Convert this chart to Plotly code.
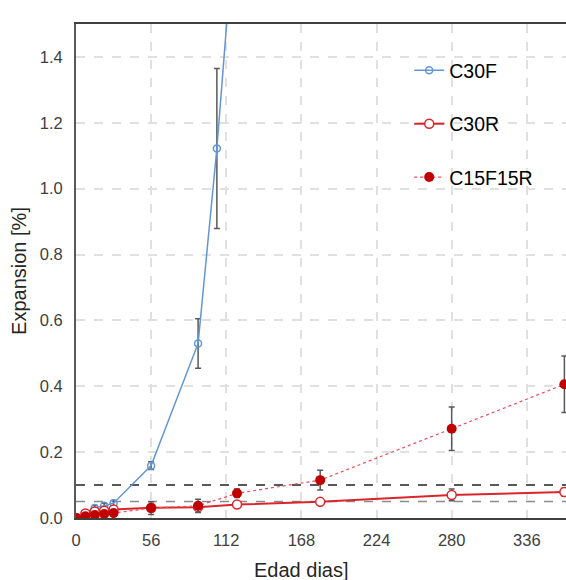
import plotly.graph_objects as go

# Expansion over time for three mixes (mean ± standard deviation)
days_c30f = [0, 7, 14, 21, 28, 56, 91, 105, 119]
exp_c30f = [0.0, 0.015, 0.030, 0.037, 0.045, 0.159, 0.530, 1.122, 1.850]
err_c30f = [0.0, 0.005, 0.008, 0.008, 0.008, 0.012, 0.075, 0.243, 0.300]

days_red = [0, 7, 14, 21, 28, 56, 91, 120, 182, 280, 364]
exp_c30r = [0.0, 0.014, 0.020, 0.022, 0.026, 0.031, 0.033, 0.041, 0.049, 0.070, 0.079]
err_c30r = [0.0, 0.003, 0.004, 0.004, 0.004, 0.006, 0.006, 0.005, 0.005, 0.018, 0.012]

exp_c15f15r = [0.0, 0.005, 0.009, 0.012, 0.015, 0.030, 0.037, 0.075, 0.115, 0.271, 0.406]
err_c15f15r = [0.0, 0.002, 0.003, 0.003, 0.004, 0.019, 0.020, 0.013, 0.030, 0.066, 0.086]

x_ticks = [0, 56, 112, 168, 224, 280, 336]
y_ticks = [0.0, 0.2, 0.4, 0.6, 0.8, 1.0, 1.2, 1.4]
limit_high = 0.10
limit_low = 0.05

BLUE = "#6196D3"
RED = "#D9262B"
DARK_RED = "#C00000"
ERR = dict(type="data", thickness=1.5, width=3, color="#595959")

fig = go.Figure()

fig.add_trace(go.Scatter(
    x=days_c30f, y=exp_c30f, name="C30F", mode="lines+markers",
    line=dict(color=BLUE, width=1.5),
    marker=dict(symbol="circle-open", size=7, color=BLUE, line=dict(width=1.5)),
    error_y=dict(array=err_c30f, **ERR),
    legendgroup="a",
))
fig.add_trace(go.Scatter(
    x=days_red, y=exp_c30r, name="C30R", mode="lines+markers",
    line=dict(color=RED, width=2),
    marker=dict(symbol="circle", size=9, color="white", line=dict(color=RED, width=1.5)),
    error_y=dict(array=err_c30r, **ERR),
    legendgroup="b",
))
fig.add_trace(go.Scatter(
    x=days_red, y=exp_c15f15r, name="C15F15R", mode="lines+markers",
    line=dict(color="#EE4B55", width=1.2, dash="dot"),
    marker=dict(symbol="circle", size=10, color=DARK_RED),
    error_y=dict(array=err_c15f15r, **ERR),
    legendgroup="c",
))

# Limit lines
fig.add_shape(type="line", xref="x domain", yref="y", x0=0, x1=1, y0=limit_high, y1=limit_high,
              line=dict(color="#222222", width=1.5, dash="dash"), layer="below")
fig.add_shape(type="line", xref="x domain", yref="y", x0=0, x1=1, y0=limit_low, y1=limit_low,
              line=dict(color="#8C8C8C", width=1.5, dash="dash"), layer="below")

# X-axis title, placed left of the domain centre
fig.add_annotation(text="Edad dias]", xref="paper", yref="paper",
                   x=(301 - 76) / 490, y=-(570 - 518) / 494,
                   xanchor="center", yanchor="middle", showarrow=False,
                   font=dict(size=20, color="#262626"))

font = "Liberation Sans, Arial, sans-serif"
fig.update_layout(
    width=566, height=580,
    margin=dict(l=76, r=0, t=24, b=62),
    plot_bgcolor="white", paper_bgcolor="white",
    font=dict(family=font, size=16.5, color="#404040"),
    showlegend=True,
    legend=dict(
        x=0.68, y=0.945, xanchor="left", yanchor="top",
        font=dict(size=19.5, color="#000000"),
        tracegroupgap=25, traceorder="grouped",
        bgcolor="rgba(255,255,255,0)",
    ),
    xaxis=dict(
        range=[0, 365.2], tickvals=x_ticks, ticktext=[str(v) for v in x_ticks],
        showgrid=True, gridcolor="#E0E0E0", gridwidth=1.5, griddash="dash",
        showline=True, linecolor="#404040", linewidth=2, mirror=True,
        ticks="", zeroline=False, ticklabelstandoff=6,
        tickfont=dict(size=16.5, color="#404040"),
    ),
    yaxis=dict(
        range=[0, 1.5], tickvals=y_ticks, tickformat=".1f",
        showgrid=True, gridcolor="#E0E0E0", gridwidth=1.5, griddash="dash",
        showline=True, linecolor="#595959", linewidth=2,
        ticks="", zeroline=False, ticklabelstandoff=8,
        tickfont=dict(size=16.5, color="#404040"),
        title=dict(text="Expansion [%]", font=dict(size=20, color="#262626"), standoff=8),
    ),
)

fig.write_html("out.html")
